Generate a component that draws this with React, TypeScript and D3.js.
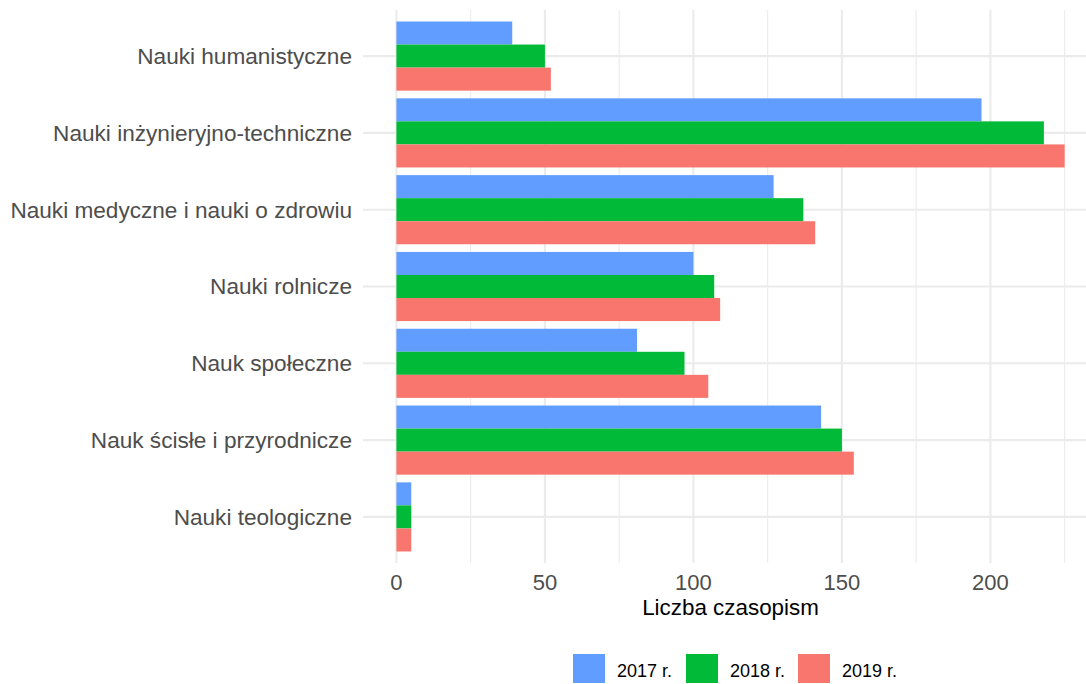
import React from "react";
import * as d3 from "d3";

const categories = [
  "Nauki humanistyczne",
  "Nauki inżynieryjno-techniczne",
  "Nauki medyczne i nauki o zdrowiu",
  "Nauki rolnicze",
  "Nauk społeczne",
  "Nauk ścisłe i przyrodnicze",
  "Nauki teologiczne",
];
const years = ["2017 r.", "2018 r.", "2019 r."];
const colors = ["#619CFF", "#00BA38", "#F8766D"];
const values2017 = [39, 197, 127, 100, 81, 143, 5];
const values2018 = [50, 218, 137, 107, 97, 150, 5];
const values2019 = [52, 225, 141, 109, 105, 154, 5];
const series = [values2017, values2018, values2019];
const xTicks = [0, 50, 100, 150, 200];
const xMinor = [25, 75, 125, 175, 225];

const W = 1086;
const H = 684;
const panelLeft = 363;
const panelTop = 10;
const panelBottom = 563;

export default function App() {
  const maxV = d3.max(series.flat()) as number;
  const pad = maxV * 0.05;
  const pxPerUnit = 2.97;
  const x = d3
    .scaleLinear()
    .domain([-pad, maxV + pad])
    .range([panelLeft, panelLeft + (maxV + 2 * pad) * pxPerUnit]);
  const panelRight = x.range()[1];
  const unit = (panelBottom - panelTop) / (categories.length + 0.2);
  const y = d3
    .scaleBand()
    .domain(categories)
    .range([panelTop + 0.1 * unit, panelBottom - 0.1 * unit])
    .paddingInner(0.1)
    .paddingOuter(0.05);
  const sub = d3.scaleBand().domain(years).range([0, y.bandwidth()]);
  const center = (c: string) => (y(c) as number) + y.bandwidth() / 2;
  const font = "'Liberation Sans', Arial, Helvetica, sans-serif";

  return (
    <svg
      width={W}
      height={H}
      style={{ position: "absolute", left: 0, top: 0, background: "#fff" }}
      fontFamily={font}
    >
      <defs>
        <clipPath id="clip">
          <rect x={0} y={0} width={W} height={H} />
        </clipPath>
      </defs>
      <g clipPath="url(#clip)">
        {xMinor.map((t) => (
          <line key={"mn" + t} x1={x(t)} x2={x(t)} y1={panelTop} y2={panelBottom} stroke="#ebebeb" strokeWidth={1.1} />
        ))}
        {xTicks.map((t) => (
          <line key={"mj" + t} x1={x(t)} x2={x(t)} y1={panelTop} y2={panelBottom} stroke="#ebebeb" strokeWidth={2.1} />
        ))}
        {categories.map((c) => (
          <line key={"h" + c} x1={panelLeft} x2={panelRight} y1={center(c)} y2={center(c)} stroke="#ebebeb" strokeWidth={2.1} />
        ))}
        {categories.map((c, i) =>
          years.map((yr, j) => (
            <rect
              key={c + yr}
              x={x(0)}
              y={(y(c) as number) + (sub(yr) as number)}
              width={x(series[j][i]) - x(0)}
              height={sub.bandwidth()}
              fill={colors[j]}
            />
          ))
        )}
      </g>
      {categories.map((c) => (
        <text key={"l" + c} x={352} y={center(c)} dy="0.35em" textAnchor="end" fontSize={22.6} fill="#4d4d4d">
          {c}
        </text>
      ))}
      {xTicks.map((t) => (
        <text key={"t" + t} x={x(t)} y={590} textAnchor="middle" fontSize={22} fill="#4d4d4d">
          {t}
        </text>
      ))}
      <text x={(panelLeft + panelRight) / 2} y={615} textAnchor="middle" fontSize={22.4} fill="#000">
        Liczba czasopism
      </text>
      {years.map((yr, j) => {
        const lx = [573, 686, 798][j];
        return (
          <g key={"lg" + yr}>
            <rect x={lx} y={654} width={32} height={29} fill={colors[j]} />
            <text x={lx + 44} y={677} fontSize={18} fill="#000">
              {yr}
            </text>
          </g>
        );
      })}
    </svg>
  );
}
